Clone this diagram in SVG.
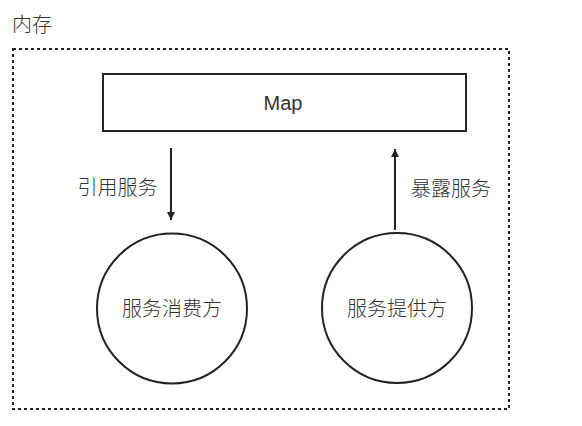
<svg xmlns="http://www.w3.org/2000/svg" width="582" height="426" viewBox="0 0 582 426">
<style>
text{font-family:"Noto Sans CJK SC","Liberation Sans",sans-serif;font-size:20px;fill:#333;font-weight:300}
text.latin{font-family:"Liberation Sans",sans-serif;font-size:20px}
.shape{fill:#fff;stroke:#222;stroke-width:2}
.conn{stroke:#222;stroke-width:2;fill:none}
</style>
<defs>
<marker id="ah" markerWidth="10" markerHeight="10" refX="8" refY="5" orient="auto" markerUnits="userSpaceOnUse">
<path d="M0,1 L8,5 L0,9 Z" fill="#222"/>
</marker>
</defs>
<rect width="582" height="426" fill="#fff"/>
<g id="memory">
<text x="12" y="32">内存</text>
<rect x="13" y="49" width="496" height="360" fill="none" stroke="#222" stroke-width="2" stroke-dasharray="3 3"/>
</g>
<g id="map">
<rect class="shape" x="103" y="74" width="363" height="57"/>
<text class="latin" x="283" y="110" text-anchor="middle">Map</text>
</g>
<g id="consumer">
<circle class="shape" cx="172" cy="308.5" r="75"/>
<text x="172" y="316" text-anchor="middle">服务消费方</text>
</g>
<g id="provider">
<circle class="shape" cx="397" cy="308" r="75"/>
<text x="397" y="316" text-anchor="middle">服务提供方</text>
</g>
<g id="connectors">
<line class="conn" x1="171" y1="148" x2="171" y2="220" marker-end="url(#ah)"/>
<text x="117.5" y="195" text-anchor="middle">引用服务</text>
<line class="conn" x1="395" y1="230" x2="395" y2="149" marker-end="url(#ah)"/>
<text x="451" y="196" text-anchor="middle">暴露服务</text>
</g>
</svg>
